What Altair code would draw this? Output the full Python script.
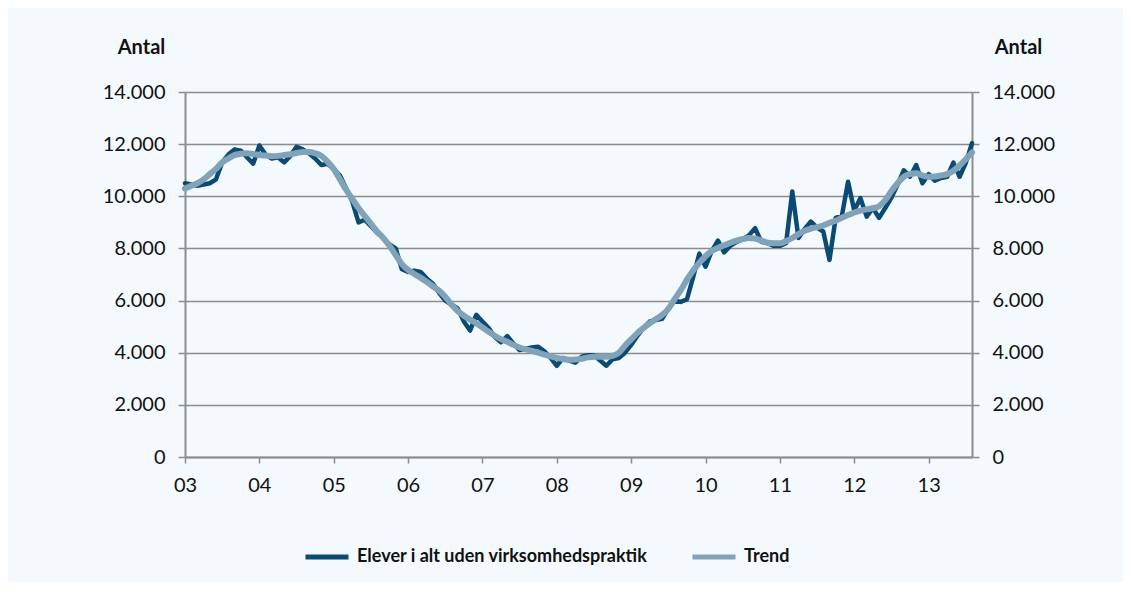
import altair as alt
import pandas as pd

# Monthly observations, Jan 2003 .. Aug 2013 (month index 0..127)
series_names = ["Elever i alt uden virksomhedspraktik", "Trend"]
series_colors = ["#0b4a72", "#80a3b9"]

actual = [
    10500, 10450, 10400, 10450, 10500, 10650, 11300, 11600, 11800, 11750, 11500, 11250,
    11950, 11600, 11450, 11500, 11300, 11550, 11900, 11800, 11650, 11450, 11200, 11250,
    11050, 10800, 10300, 9800, 9000, 9100, 8850, 8600, 8400, 8150, 8000, 7200,
    7100, 7150, 7100, 6850, 6650, 6300, 6000, 5850, 5700, 5200, 4850, 5450,
    5200, 4950, 4600, 4400, 4640, 4350, 4100, 4150, 4200, 4230, 4050, 3800,
    3500, 3800, 3700, 3620, 3850, 3900, 3900, 3700, 3500, 3750, 3800, 4000,
    4300, 4650, 4950, 5200, 5250, 5300, 5700, 6000, 5950, 6050, 6900, 7800,
    7300, 7900, 8300, 7850, 8100, 8250, 8350, 8500, 8780, 8250, 8200, 8100,
    8100, 8200, 10180, 8400, 8750, 9030, 8800, 8650, 7560, 9170, 9250, 10560,
    9450, 9930, 9220, 9550, 9170, 9550, 9950, 10450, 11000, 10750, 11200, 10500,
    10850, 10600, 10700, 10750, 11290, 10750, 11280, 12040,
]

trend = [
    10300, 10400, 10500, 10650, 10850, 11050, 11300, 11450, 11580, 11630, 11650, 11620,
    11580, 11560, 11540, 11550, 11580, 11610, 11660, 11700, 11700, 11650, 11550, 11330,
    11050, 10650, 10250, 9900, 9550, 9250, 8950, 8650, 8400, 8100, 7750, 7400,
    7180, 7020, 6880, 6720, 6550, 6380, 6150, 5850, 5600, 5420, 5270, 5130,
    4970, 4800, 4650, 4520, 4420, 4300, 4200, 4130, 4070, 4000, 3930, 3860,
    3800, 3760, 3730, 3740, 3770, 3820, 3850, 3850, 3850, 3880, 4000, 4270,
    4510, 4750, 4950, 5130, 5290, 5450, 5680, 6050, 6400, 6800, 7150, 7450,
    7700, 7900, 8020, 8120, 8220, 8300, 8360, 8400, 8380, 8300, 8220, 8200,
    8200, 8280, 8400, 8550, 8680, 8760, 8820, 8880, 8980, 9060, 9180, 9280,
    9380, 9450, 9500, 9540, 9620, 9850, 10200, 10500, 10750, 10850, 10880, 10800,
    10750, 10760, 10800, 10850, 10980, 11180, 11420, 11680,
]

year_ticks = list(range(2003, 2014))
y_ticks = [0, 2000, 4000, 6000, 8000, 10000, 12000, 14000]

n = len(actual)
t = [2003 + m / 12 for m in range(n)]
df = pd.DataFrame({
    "t": t + t,
    "v": actual + trend,
    "s": [series_names[0]] * n + [series_names[1]] * n,
})

FONT = "Lato"
GRAY = "#8c8c8c"

color = alt.Color(
    "s:N",
    scale=alt.Scale(domain=series_names, range=series_colors),
    legend=alt.Legend(
        title=None, orient="none", direction="horizontal",
        legendX=118, legendY=441, padding=0,
        symbolType="stroke", symbolSize=1849, symbolStrokeWidth=5,
        labelFont=FONT, labelFontSize=18, labelFontWeight="bold", labelColor="#111111",
        labelLimit=600, labelOffset=6, columnPadding=34,
    ),
)

xenc = alt.X(
    "t:Q",
    scale=alt.Scale(domain=[2003, 2003 + (n - 1) / 12], nice=False, zero=False),
    axis=alt.Axis(
        values=year_ticks, title=None, grid=False,
        labelExpr="substring(toString(datum.value), 2, 4)",
        labelFont=FONT, labelFontSize=20, labelColor="#111111", labelPadding=12,
        labelOverlap=False, labelFlush=False,
        domainColor=GRAY, domainWidth=2, tickColor=GRAY, tickWidth=1.5, tickSize=6,
    ),
)

def yaxis(orient, grid, title_x):
    return alt.Axis(
        orient=orient, values=y_ticks, grid=grid, gridColor=GRAY, gridWidth=1.5,
        labelExpr="replace(format(datum.value, ',d'), ',', '.')",
        labelFont=FONT, labelFontSize=20, labelColor="#111111", labelPadding=13,
        domainColor=GRAY, domainWidth=2, tickColor=GRAY, tickWidth=1.5, tickSize=7,
        title="Antal", titleAngle=0, titleFont=FONT, titleFontSize=20,
        titleFontWeight="bold", titleColor="#111111", titleX=title_x, titleY=-39,
        titleAlign="center", titleBaseline="alphabetic",
    )

yscale = alt.Scale(domain=[0, 14000], nice=False)

actual_layer = alt.Chart(df).transform_filter(
    alt.datum.s == series_names[0]
).mark_line(strokeWidth=4.5, strokeCap="round", strokeJoin="round").encode(
    x=xenc,
    y=alt.Y("v:Q", scale=yscale, axis=yaxis("left", True, -44)),
    color=color,
)

trend_layer = alt.Chart(df).transform_filter(
    alt.datum.s == series_names[1]
).mark_line(strokeWidth=6, strokeCap="round", strokeJoin="round", interpolate="monotone").encode(
    x=xenc,
    y=alt.Y("v:Q", scale=yscale, axis=yaxis("right", False, 46)),
    color=color,
)

chart = alt.layer(actual_layer, trend_layer).resolve_scale(
    y="independent"
).properties(
    width=787, height=365,
    autosize=alt.AutoSizeParams(type="none"),
    padding={"left": 177, "top": 84, "right": 151, "bottom": 125},
    background="#f4f9fd",
).configure_view(stroke=None)

chart.save("out.html", embed_options={"renderer": "svg", "actions": False})
